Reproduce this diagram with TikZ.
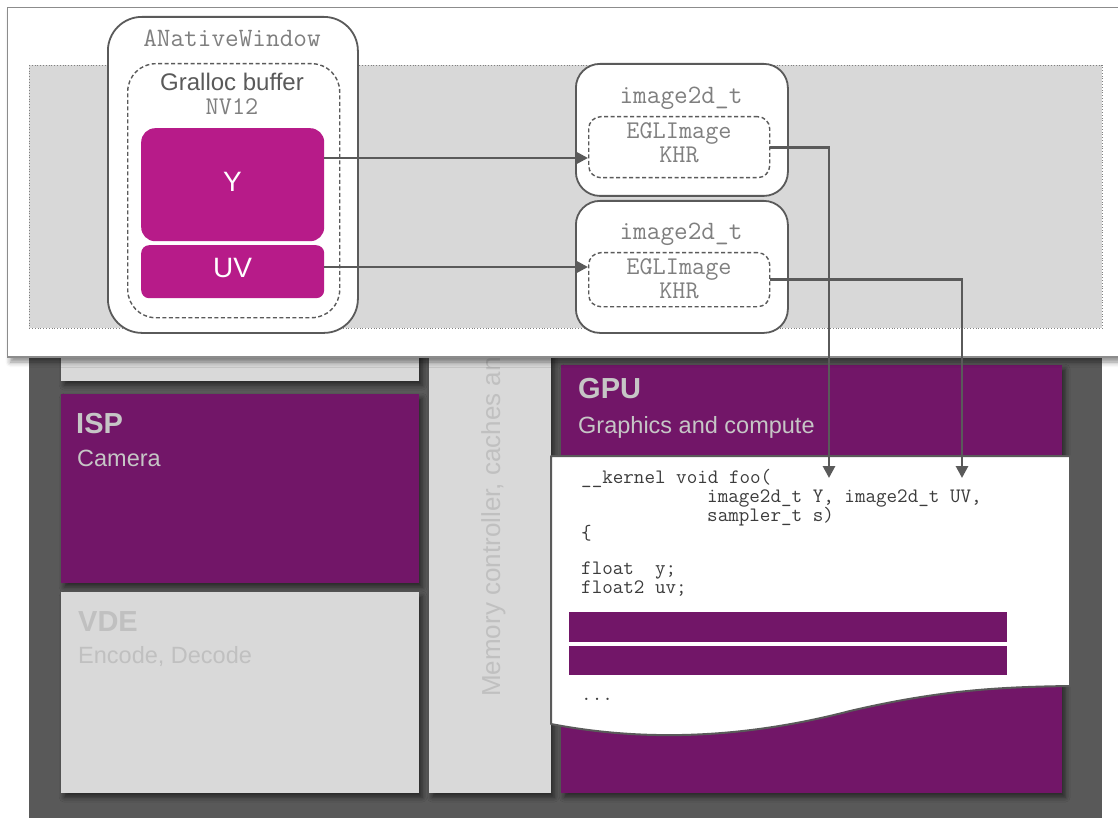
\documentclass[tikz,border=0pt]{standalone}
\usepackage{fontspec}
\setmainfont{Liberation Sans}
\usetikzlibrary{arrows.meta,shadows.blur}

\definecolor{chip}{HTML}{595959}
\definecolor{blockgray}{HTML}{D9D9D9}
\definecolor{plum}{HTML}{721668}
\definecolor{plane}{HTML}{B71B89}
\definecolor{ink}{HTML}{5A5A5A}
\definecolor{labelgray}{HTML}{7F7F7F}
\definecolor{paletext}{HTML}{C6C6C6}
\definecolor{fadedtext}{HTML}{C0C0C0}
\definecolor{hatch}{HTML}{D8D8D8}
\definecolor{codeink}{HTML}{3C3C3C}
\definecolor{panelline}{HTML}{8C8C8C}

\tikzset{
  softshadow/.style={blur shadow={shadow xshift=3pt, shadow yshift=-4pt,
      shadow blur radius=5pt, shadow opacity=55}},
  block/.style={rectangle, draw=none, inner sep=0pt, anchor=north west, softshadow},
  title/.style={anchor=base west, inner sep=0pt,
      font=\bfseries\fontsize{29}{32}\selectfont},
  subtitle/.style={anchor=base west, inner sep=0pt,
      font=\fontsize{23.5}{27}\selectfont},
  roundbox/.style={rectangle, anchor=north west, inner sep=0pt, fill=white,
      draw=ink, line width=1.8pt},
  dashbox/.style={rectangle, anchor=north west, inner sep=0pt,
      draw=ink, line width=1.4pt, dash pattern=on 4pt off 2.5pt},
  plane/.style={rectangle, anchor=north west, inner sep=0pt, fill=plane, draw=none},
  planelabel/.style={anchor=base, inner sep=0pt, text=white,
      font=\fontsize{28}{30}\selectfont},
  monolabel/.style={anchor=base, inner sep=0pt, text=labelgray,
      font=\ttfamily\fontsize{26.5}{29}\selectfont},
  pairlabel/.style={monolabel, font=\ttfamily\fontsize{25.5}{28}\selectfont},
  codeline/.style={anchor=base west, inner sep=0pt, text=codeink,
      font=\ttfamily\fontsize{20.5}{22}\selectfont},
  conn/.style={draw=ink, line width=2.8pt,
      -{Triangle[length=12pt,width=12pt]}},
}

\begin{document}
\begin{tikzpicture}[x=1pt,y=-1pt]
\useasboundingbox (0,0) rectangle (1118,818);

% SoC die
\fill[chip] (29,300) rectangle (1102,818);

% functional blocks on the die
\node[block, fill=blockgray, minimum width=358pt, minimum height=81pt] (topblock) at (61,300) {};
\node[block, fill=plum, minimum width=358pt, minimum height=189pt] (isp) at (61,394) {};
\node[block, fill=blockgray, minimum width=358pt, minimum height=201pt] (vde) at (61,592) {};
\node[block, fill=blockgray, minimum width=122pt, minimum height=493pt] (mem) at (429,300) {};
\node[block, fill=plum, minimum width=501pt, minimum height=428pt] (gpu) at (561,365) {};

\node[title, text=paletext] (isptitle) at (76,433) {ISP};
\node[subtitle, text=paletext] (ispsub) at (77,466) {Camera};
\node[title, text=fadedtext] (vdetitle) at (78,631) {VDE};
\node[subtitle, text=fadedtext] (vdesub) at (78,663) {Encode, Decode};
\node[title, text=paletext] (gputitle) at (578,398) {GPU};
\node[subtitle, text=paletext] (gpusub) at (578,433) {Graphics and compute};
\node[anchor=base west, inner sep=0pt, rotate=90, text=fadedtext,
      font=\fontsize{26}{28}\selectfont] (memlabel) at (500,697)
      {Memory controller, caches and};

% kernel source sheet
\filldraw[fill=white, draw=ink, line width=2pt, line join=round]
  (551,456) -- (1070,456) -- (1070,686)
  .. controls (1000,687) and (940,690) .. (850,711)
  .. controls (750,737) and (650,743) .. (551,724) -- cycle;

\node[codeline] (c1) at (581,483.5) {\_\_kernel void foo(};
\node[codeline] (c2) at (707,502.5) {image2d\_t Y, image2d\_t UV,};
\node[codeline] (c3) at (707,521) {sampler\_t s)};
\node[codeline] (c4) at (581,539) {\{};
\node[codeline] (c5) at (581,574.5) {float\ \ y;};
\node[codeline] (c6) at (581,593.5) {float2 uv;};
\node[codeline] (c7) at (581,700) {...};
\fill[plum] (569,612) rectangle (1007,642);
\fill[plum] (569,645.5) rectangle (1007,675);

% application layer panel
\filldraw[fill=white, draw=panelline, line width=1.2pt,
  blur shadow={shadow xshift=3pt, shadow yshift=-5pt, shadow blur radius=5pt, shadow opacity=45}]
  (7.5,7.5) rectangle (1140,357);
\filldraw[fill=hatch, draw=gray, line width=0.8pt, dotted] (29,65) rectangle (1102,328);

% ANativeWindow with its gralloc buffer
\node[roundbox, rounded corners=34pt, minimum width=250pt, minimum height=316pt] (window) at (107,16) {};
\node[monolabel] (windowlabel) at (232,46.5) {ANativeWindow};
\node[dashbox, rounded corners=28pt, minimum width=212pt, minimum height=254pt] (gralloc) at (127,63) {};
\node[anchor=base, inner sep=0pt, text=ink, font=\fontsize{24}{26}\selectfont] (grallocname) at (232,90.5) {Gralloc buffer};
\node[pairlabel] (format) at (232,115) {NV12};
\node[plane, rounded corners=14pt, minimum width=183pt, minimum height=113pt] (Y) at (141,128) {};
\node[planelabel] (Ylabel) at (232.5,192) {Y};
\node[plane, rounded corners=8pt, minimum width=183pt, minimum height=53pt] (UV) at (141,245) {};
\node[planelabel] (UVlabel) at (232.5,277.5) {UV};

% OpenCL images wrapping EGL images
\node[roundbox, rounded corners=24pt, minimum width=212pt, minimum height=132pt] (img1) at (575,63) {};
\node[monolabel] (img1label) at (681,103.3) {image2d\_t};
\node[dashbox, rounded corners=12pt, minimum width=181pt, minimum height=61pt] (egl1) at (588,116) {};
\node[pairlabel] (egl1a) at (679,138.3) {EGLImage};
\node[pairlabel] (egl1b) at (679,162.5) {KHR};

\node[roundbox, rounded corners=24pt, minimum width=212pt, minimum height=132pt] (img2) at (575,200) {};
\node[monolabel] (img2label) at (681,239.3) {image2d\_t};
\node[dashbox, rounded corners=12pt, minimum width=181pt, minimum height=54pt] (egl2) at (588,252) {};
\node[pairlabel] (egl2a) at (679,274.7) {EGLImage};
\node[pairlabel] (egl2b) at (679,298.5) {KHR};

% connectors
\coordinate (yrow) at (0,158);
\coordinate (uvrow) at (0,267);
\coordinate (ytip) at (829,478);
\coordinate (uvtip) at (962,478);
\draw[conn] (Y.east |- yrow) -- (egl1.west |- yrow);
\draw[conn] (UV.east |- uvrow) -- (egl2.west |- uvrow);
\draw[conn] (egl1.east) -| (ytip);
\draw[conn] (egl2.east) -| (uvtip);
\end{tikzpicture}
\end{document}
